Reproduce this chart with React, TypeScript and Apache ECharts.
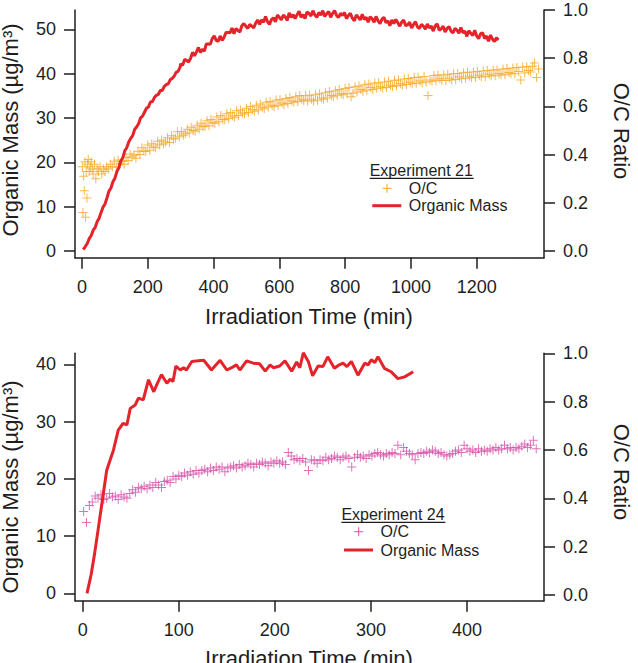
import React, { useEffect, useRef } from "react";
import * as echarts from "echarts";

// Experiment 21: organic mass (µg/m³) vs irradiation time (min)
const exp21Mass: [number, number][] = [
  [4, 0.3], [10, 1.0], [16, 1.7], [22, 2.8], [28, 3.5], [34, 4.7], [40, 5.3], [46, 6.6], [52, 7.4], [58, 8.7],
  [64, 9.9], [70, 10.6], [76, 12.0], [82, 13.5], [88, 14.2], [94, 15.6], [100, 16.4], [106, 17.9], [112, 18.8], [118, 20.3],
  [124, 21.0], [130, 22.6], [136, 23.3], [142, 24.6], [148, 25.4], [154, 26.0], [160, 27.4], [166, 28.0], [172, 28.7], [178, 30.0],
  [184, 30.4], [190, 31.3], [196, 32.2], [202, 32.5], [208, 33.6], [214, 33.7], [220, 34.6], [226, 35.1], [232, 35.3], [238, 36.2],
  [244, 36.2], [250, 37.1], [256, 37.5], [262, 37.7], [268, 38.6], [274, 38.9], [280, 39.4], [286, 40.3], [292, 40.5], [298, 41.4],
  [300, 42.2], [306, 41.9], [312, 43.2], [318, 43.0], [324, 42.6], [330, 43.4], [336, 44.8], [342, 44.0], [348, 44.9], [354, 45.9],
  [360, 44.8], [366, 45.5], [372, 45.1], [378, 46.7], [384, 46.7], [390, 46.6], [396, 47.9], [402, 48.5], [408, 47.5], [414, 47.3],
  [420, 48.5], [426, 47.5], [432, 48.2], [438, 49.3], [444, 49.3], [450, 49.2], [456, 50.3], [462, 49.0], [468, 50.2], [474, 49.7],
  [480, 49.4], [486, 50.8], [492, 51.3], [498, 50.7], [504, 50.2], [510, 51.1], [516, 50.7], [522, 50.3], [528, 51.4], [534, 52.1],
  [540, 51.1], [546, 52.1], [552, 51.6], [558, 52.9], [564, 51.7], [570, 51.1], [576, 52.2], [582, 52.6], [588, 51.7], [594, 53.2],
  [600, 52.7], [606, 52.1], [612, 53.2], [618, 52.8], [624, 52.0], [630, 53.7], [636, 52.7], [642, 53.3], [648, 52.4], [654, 53.3],
  [660, 54.1], [666, 52.7], [672, 53.3], [678, 52.4], [684, 53.9], [690, 53.6], [696, 53.0], [702, 54.2], [708, 53.2], [714, 52.7],
  [720, 53.8], [726, 53.2], [732, 54.2], [738, 52.9], [744, 53.5], [750, 54.0], [756, 52.7], [762, 53.6], [768, 54.2], [774, 53.1],
  [780, 52.7], [786, 53.6], [792, 53.1], [798, 53.8], [804, 52.4], [810, 53.1], [816, 53.6], [822, 52.5], [828, 51.9], [834, 53.2],
  [840, 52.7], [846, 52.1], [852, 53.4], [858, 52.2], [864, 52.7], [870, 51.6], [876, 52.8], [882, 52.4], [888, 51.6], [894, 52.9],
  [900, 51.9], [906, 51.3], [912, 52.3], [918, 52.7], [924, 51.5], [930, 51.9], [936, 50.8], [942, 52.1], [948, 51.3], [954, 52.2],
  [960, 51.5], [966, 50.7], [972, 51.6], [978, 52.1], [984, 50.8], [990, 51.0], [996, 51.6], [1002, 50.3], [1008, 51.1], [1014, 51.7],
  [1020, 50.5], [1026, 50.2], [1032, 51.1], [1038, 50.7], [1044, 50.0], [1050, 51.2], [1056, 50.3], [1062, 50.7], [1068, 49.6], [1074, 50.8],
  [1080, 51.2], [1086, 49.8], [1092, 50.1], [1098, 50.7], [1104, 49.4], [1110, 50.2], [1116, 50.6], [1122, 49.6], [1128, 49.2], [1134, 50.2],
  [1140, 49.8], [1146, 49.1], [1152, 50.4], [1158, 49.2], [1164, 49.6], [1170, 48.4], [1176, 49.7], [1182, 49.1], [1188, 48.6], [1194, 49.8],
  [1200, 48.5], [1206, 47.9], [1212, 49.0], [1218, 49.2], [1224, 47.9], [1230, 48.5], [1236, 47.3], [1242, 48.7], [1248, 47.8], [1254, 47.2],
  [1260, 48.1], [1266, 47.6],
];

// Experiment 21: O/C ratio vs irradiation time (min)
const exp21OC: [number, number][] = [
  [1, 0.35], [3, 0.16], [5, 0.31], [7, 0.25], [9, 0.37], [11, 0.14], [13, 0.33], [15, 0.22], [17, 0.36], [19, 0.38],
  [22, 0.33], [25, 0.35], [28, 0.37], [31, 0.34], [34, 0.32], [38, 0.36], [42, 0.30], [46, 0.34], [50, 0.33], [55, 0.35],
  [60, 0.32], [65, 0.34], [70, 0.33], [75, 0.35], [80, 0.34], [86, 0.36], [92, 0.35], [98, 0.372], [104, 0.348], [110, 0.378],
  [116, 0.362], [122, 0.371], [128, 0.36], [134, 0.388], [140, 0.376], [146, 0.403], [152, 0.39], [158, 0.397], [164, 0.385], [170, 0.414],
  [176, 0.4], [182, 0.428], [188, 0.415], [194, 0.413], [200, 0.44], [206, 0.418], [212, 0.445], [218, 0.432], [224, 0.428], [230, 0.455],
  [236, 0.44], [242, 0.461], [248, 0.444], [254, 0.452], [260, 0.47], [266, 0.45], [272, 0.478], [278, 0.465], [284, 0.468], [290, 0.495],
  [296, 0.474], [302, 0.496], [308, 0.48], [314, 0.486], [320, 0.505], [326, 0.49], [332, 0.514], [338, 0.5], [344, 0.497], [350, 0.522],
  [356, 0.505], [362, 0.53], [368, 0.516], [374, 0.518], [380, 0.54], [386, 0.52], [392, 0.546], [398, 0.532], [404, 0.53], [410, 0.556],
  [416, 0.536], [422, 0.562], [428, 0.546], [434, 0.545], [440, 0.57], [446, 0.55], [452, 0.575], [458, 0.56], [464, 0.555], [470, 0.582],
  [476, 0.562], [482, 0.585], [488, 0.573], [494, 0.568], [500, 0.592], [506, 0.575], [512, 0.6], [518, 0.586], [524, 0.58], [530, 0.605],
  [536, 0.585], [542, 0.61], [548, 0.596], [554, 0.59], [560, 0.617], [566, 0.597], [572, 0.62], [578, 0.605], [584, 0.6], [590, 0.627],
  [596, 0.605], [602, 0.628], [608, 0.614], [614, 0.607], [620, 0.633], [626, 0.612], [632, 0.637], [638, 0.622], [644, 0.617], [650, 0.64],
  [656, 0.62], [662, 0.645], [668, 0.63], [674, 0.625], [680, 0.644], [686, 0.622], [692, 0.646], [698, 0.63], [704, 0.622], [710, 0.648],
  [716, 0.626], [722, 0.652], [728, 0.635], [734, 0.63], [740, 0.657], [746, 0.635], [752, 0.662], [758, 0.645], [764, 0.64], [770, 0.665],
  [776, 0.646], [782, 0.67], [788, 0.653], [794, 0.648], [800, 0.674], [806, 0.652], [812, 0.678], [818, 0.64], [824, 0.655], [830, 0.682],
  [836, 0.66], [842, 0.685], [848, 0.67], [854, 0.663], [860, 0.69], [866, 0.667], [872, 0.693], [878, 0.678], [884, 0.67], [890, 0.697],
  [896, 0.675], [902, 0.698], [908, 0.682], [914, 0.676], [920, 0.701], [926, 0.678], [932, 0.704], [938, 0.688], [944, 0.683], [950, 0.708],
  [956, 0.686], [962, 0.71], [968, 0.694], [974, 0.688], [980, 0.714], [986, 0.691], [992, 0.716], [998, 0.7], [1004, 0.694], [1010, 0.72],
  [1016, 0.696], [1022, 0.721], [1028, 0.705], [1034, 0.698], [1040, 0.724], [1046, 0.701], [1052, 0.645], [1058, 0.71], [1064, 0.704], [1070, 0.728],
  [1076, 0.706], [1082, 0.73], [1088, 0.715], [1094, 0.708], [1100, 0.73], [1106, 0.707], [1112, 0.733], [1118, 0.717], [1124, 0.71], [1130, 0.735],
  [1136, 0.712], [1142, 0.737], [1148, 0.722], [1154, 0.715], [1160, 0.74], [1166, 0.717], [1172, 0.742], [1178, 0.725], [1184, 0.719], [1190, 0.743],
  [1196, 0.72], [1202, 0.745], [1208, 0.729], [1214, 0.723], [1220, 0.747], [1226, 0.723], [1232, 0.749], [1238, 0.733], [1244, 0.727], [1250, 0.751],
  [1256, 0.727], [1262, 0.752], [1268, 0.737], [1274, 0.73], [1280, 0.755], [1286, 0.731], [1292, 0.757], [1298, 0.741], [1304, 0.735], [1310, 0.759],
  [1316, 0.735], [1322, 0.761], [1328, 0.745], [1334, 0.71], [1340, 0.763], [1346, 0.739], [1352, 0.765], [1358, 0.749], [1364, 0.743], [1370, 0.767],
  [1376, 0.78], [1382, 0.72], [1388, 0.755],
];

// Experiment 24: organic mass (µg/m³) vs irradiation time (min)
const exp24Mass: [number, number][] = [
  [4.5, 0.0], [8.7, 3.2], [12, 6.5], [15, 9.9], [20, 15.7], [25, 21.5], [29, 23.5], [32, 25.0], [37, 28.5], [42, 29.7],
  [46, 29.4], [49.5, 32.3], [54.7, 32.9], [58, 34.1], [63, 33.8], [68.5, 37.3], [74, 35.2], [77, 36.4], [82, 38.2], [87.6, 36.7],
  [91, 37.4], [94, 37.0], [97, 39.7], [101.5, 39.0], [105, 39.4], [108, 39.0], [113.6, 40.5], [120, 40.6], [126, 40.7], [134, 39.0],
  [143, 40.7], [150, 39.0], [155, 39.4], [160, 39.9], [163.6, 39.0], [170.6, 40.6], [177.5, 40.2], [184, 40.1], [190, 38.8], [195, 39.9],
  [198.5, 39.4], [205, 39.7], [210.5, 40.6], [217.5, 38.8], [222.7, 40.4], [226, 39.4], [229.6, 42.0], [234.8, 40.5], [239.3, 38.0], [245, 39.7],
  [250, 39.6], [255, 41.3], [262, 39.3], [266, 39.8], [271, 40.2], [275, 39.6], [279.6, 40.5], [286.5, 38.1], [293.5, 40.2], [297, 39.9],
  [300.4, 40.8], [304, 40.3], [307.3, 41.3], [314, 39.3], [321, 38.7], [328, 37.5], [335, 37.8], [344, 38.7],
];

// Experiment 24: O/C ratio vs irradiation time (min)
const exp24OC: [number, number][] = [
  [1, 0.345], [4, 0.3], [7, 0.37], [10, 0.385], [13, 0.41], [16, 0.4], [19, 0.415], [22, 0.395], [25, 0.4], [28, 0.42],
  [31, 0.405], [34, 0.41], [37, 0.395], [40, 0.415], [43, 0.405], [46, 0.4], [49, 0.42], [52, 0.435], [55, 0.425], [58, 0.445],
  [61, 0.44], [64, 0.45], [67, 0.44], [70, 0.455], [73, 0.445], [76, 0.465], [79, 0.455], [82, 0.445], [85, 0.47], [88, 0.475],
  [91, 0.465], [94, 0.49], [97, 0.48], [100, 0.495], [103, 0.49], [106, 0.505], [109, 0.495], [112, 0.51], [115, 0.5], [118, 0.515],
  [121, 0.505], [124, 0.515], [127, 0.52], [130, 0.51], [133, 0.525], [136, 0.515], [139, 0.53], [142, 0.52], [145, 0.53], [148, 0.51],
  [151, 0.525], [154, 0.53], [157, 0.535], [160, 0.525], [163, 0.54], [166, 0.53], [169, 0.535], [172, 0.545], [175, 0.54], [178, 0.53],
  [181, 0.545], [184, 0.54], [187, 0.55], [190, 0.545], [193, 0.535], [196, 0.55], [199, 0.545], [202, 0.555], [205, 0.545], [208, 0.55],
  [211, 0.54], [214, 0.59], [217, 0.575], [220, 0.56], [223, 0.565], [226, 0.555], [229, 0.565], [232, 0.55], [235, 0.515], [238, 0.56],
  [241, 0.555], [244, 0.545], [247, 0.56], [250, 0.555], [253, 0.57], [256, 0.56], [259, 0.565], [262, 0.575], [265, 0.57], [268, 0.56],
  [271, 0.57], [274, 0.575], [277, 0.565], [280, 0.53], [283, 0.57], [286, 0.58], [289, 0.57], [292, 0.575], [295, 0.565], [298, 0.58],
  [301, 0.575], [304, 0.585], [307, 0.59], [310, 0.58], [313, 0.575], [316, 0.585], [319, 0.58], [322, 0.59], [325, 0.585], [328, 0.62],
  [331, 0.58], [334, 0.61], [337, 0.595], [340, 0.585], [343, 0.58], [346, 0.56], [349, 0.585], [352, 0.59], [355, 0.585], [358, 0.595],
  [361, 0.59], [364, 0.6], [367, 0.595], [370, 0.585], [373, 0.59], [376, 0.58], [379, 0.575], [382, 0.58], [385, 0.585], [388, 0.595],
  [391, 0.6], [394, 0.59], [397, 0.62], [400, 0.605], [403, 0.595], [406, 0.6], [409, 0.59], [412, 0.605], [415, 0.595], [418, 0.6],
  [421, 0.595], [424, 0.605], [427, 0.6], [430, 0.61], [433, 0.6], [436, 0.605], [439, 0.62], [442, 0.605], [445, 0.61], [448, 0.6],
  [451, 0.61], [454, 0.605], [457, 0.615], [460, 0.625], [463, 0.61], [466, 0.62], [469, 0.64], [472, 0.605],
];

// Tick values
const time21Ticks = [0, 200, 400, 600, 800, 1000, 1200];
const time24Ticks = [0, 100, 200, 300, 400];
const mass21Ticks = [0, 10, 20, 30, 40, 50];
const mass24Ticks = [0, 10, 20, 30, 40];
const ratioTicks = [0, 0.2, 0.4, 0.6, 0.8, 1.0];

const FONT = '"Liberation Sans", Arial, Helvetica, sans-serif';
const INK = "#1e1e1e";
const RED = "#e5232a";
const ORANGE = "#f6a623";
const PINK = "#d64fa8";
const PLUS = "path://M4,0h1v4h4v1h-4v4h-1v-4h-4v-1h4z";

function valueAxis(
  gridIndex: number,
  min: number,
  max: number,
  ticks: number[],
  position: string,
  margin: number,
  fmt?: (v: number) => string
) {
  return {
    type: "value",
    gridIndex,
    min,
    max,
    position,
    axisLine: { show: true, onZero: false, lineStyle: { color: INK, width: 1.5 } },
    axisTick: { show: true, inside: false, length: 11, customValues: ticks, lineStyle: { color: INK, width: 1.5 } },
    axisLabel: {
      customValues: ticks,
      margin,
      fontSize: 18,
      fontFamily: FONT,
      color: INK,
      formatter: fmt ? (v: number) => fmt(v) : (v: number) => String(v),
    },
    splitLine: { show: false },
  };
}

function legendBlock(x0: number, yTitle: number, yOC: number, yMass: number, title: string, crossColor: string) {
  const txt = (text: string, x: number, y: number) => ({
    type: "text",
    x,
    y,
    silent: true,
    style: { text, font: `16px ${FONT}`, fill: INK, align: "left", verticalAlign: "middle" },
  });
  return [
    txt(title, x0 - 2.6, yTitle),
    { type: "line", silent: true, shape: { x1: x0 - 2.6, y1: yTitle + 8.3, x2: x0 + 101.4, y2: yTitle + 8.3 }, style: { stroke: INK, lineWidth: 1.2 } },
    { type: "line", silent: true, shape: { x1: x0 + 10.2, y1: yOC, x2: x0 + 19.2, y2: yOC }, style: { stroke: crossColor, lineWidth: 1 } },
    { type: "line", silent: true, shape: { x1: x0 + 14.7, y1: yOC - 4.5, x2: x0 + 14.7, y2: yOC + 4.5 }, style: { stroke: crossColor, lineWidth: 1 } },
    txt("O/C", x0 + 36.5, yOC),
    { type: "line", silent: true, shape: { x1: x0, y1: yMass, x2: x0 + 29, y2: yMass }, style: { stroke: RED, lineWidth: 3 } },
    txt("Organic Mass", x0 + 36.5, yMass),
  ];
}

function axisTitle(text: string, x: number, y: number, rotation: number) {
  return {
    type: "text",
    x,
    y,
    rotation,
    silent: true,
    style: { text, font: `22px ${FONT}`, fill: INK, align: "center", verticalAlign: "middle" },
  };
}

export default function App() {
  const ref = useRef<HTMLDivElement>(null);

  useEffect(() => {
    if (!ref.current) return;
    const chart = echarts.init(ref.current, null, { renderer: "svg" });
    const ratioFmt = (v: number) => v.toFixed(1);

    chart.setOption({
      animation: false,
      backgroundColor: "#ffffff",
      grid: [
        { left: 75, top: 10, width: 469, height: 247.7 },
        { left: 75, top: 353.3, width: 469, height: 247.4 },
      ],
      xAxis: [
        valueAxis(0, -21.3, 1404.6, time21Ticks, "bottom", 20),
        valueAxis(1, -8.0, 480.1, time24Ticks, "bottom", 20),
      ],
      yAxis: [
        valueAxis(0, -1.51, 54.35, mass21Ticks, "left", 19),
        valueAxis(0, -0.0278, 1.0, ratioTicks, "right", 19, ratioFmt),
        valueAxis(1, -1.29, 41.92, mass24Ticks, "left", 19),
        valueAxis(1, -0.0236, 1.0, ratioTicks, "right", 19, ratioFmt),
      ],
      series: [
        {
          name: "O/C",
          type: "scatter",
          xAxisIndex: 0,
          yAxisIndex: 1,
          data: exp21OC,
          symbol: PLUS,
          symbolSize: 9,
          itemStyle: { color: ORANGE },
          silent: true,
        },
        {
          name: "Organic Mass",
          type: "line",
          xAxisIndex: 0,
          yAxisIndex: 0,
          data: exp21Mass,
          showSymbol: false,
          lineStyle: { color: RED, width: 3 },
          itemStyle: { color: RED },
          silent: true,
        },
        {
          name: "O/C",
          type: "scatter",
          xAxisIndex: 1,
          yAxisIndex: 3,
          data: exp24OC,
          symbol: PLUS,
          symbolSize: 9,
          itemStyle: { color: PINK },
          silent: true,
        },
        {
          name: "Organic Mass",
          type: "line",
          xAxisIndex: 1,
          yAxisIndex: 2,
          data: exp24Mass,
          showSymbol: false,
          lineStyle: { color: RED, width: 3 },
          itemStyle: { color: RED },
          silent: true,
        },
      ],
      graphic: [
        axisTitle("Irradiation Time (min)", 309, 658, 0),
        axisTitle("Irradiation Time (min)", 309, 316, 0),
        axisTitle("Organic Mass (µg/m³)", 10.5, 130, Math.PI / 2),
        axisTitle("Organic Mass (µg/m³)", 10.5, 487, Math.PI / 2),
        axisTitle("O/C Ratio", 621, 131, -Math.PI / 2),
        axisTitle("O/C Ratio", 621, 472, -Math.PI / 2),
        ...legendBlock(372.3, 170, 188.3, 205.7, "Experiment 21", ORANGE),
        ...legendBlock(344, 514, 531.7, 550, "Experiment 24", PINK),
      ],
    });

    return () => chart.dispose();
  }, []);

  return (
    <div
      ref={ref}
      style={{ position: "fixed", left: 0, top: 0, width: 638, height: 663, background: "#fff" }}
    />
  );
}
